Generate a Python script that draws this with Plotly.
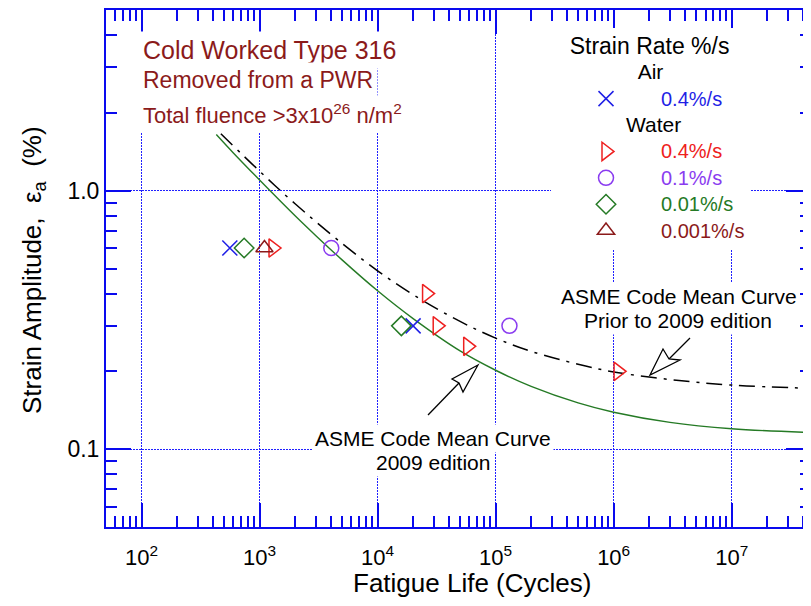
import math
import plotly.graph_objects as go

# ---- values ----
# fatigue life (cycles) and strain amplitude (%) per test group
air04_n = [560, 20000]
air04_e = [0.6, 0.3]

water04_n = [1300, 26000, 32000, 58000, 1.09e6]
water04_e = [0.6, 0.4, 0.3, 0.25, 0.2]

water01_n = [4050, 131000]
water01_e = [0.6, 0.3]

water001_n = [740, 15900]
water001_e = [0.6, 0.3]

water0001_n = [1100]
water0001_e = [0.6]

# ASME Code mean curve, 2009 edition (solid green)
asme09_n = [430, 600, 1e3, 2e3, 3e3, 5e3, 1e4, 2e4, 5e4, 1e5, 2e5, 5e5, 1e6, 3e6, 1e7, 4.7e7]
asme09_e = [1.65, 1.40, 1.10, 0.80, 0.67, 0.54, 0.41, 0.32, 0.24, 0.202, 0.175, 0.151, 0.139, 0.127, 0.120, 0.116]

# ASME Code mean curve prior to 2009 edition (dash-dot)
asmeold_n = [470, 1e3, 2e3, 5e3, 1e4, 2e4, 5e4, 1e5, 2e5, 5e5, 1e6, 3e6, 1e7, 4.7e7]
asmeold_e = [1.66, 1.19, 0.89, 0.625, 0.49, 0.396, 0.312, 0.269, 0.239, 0.213, 0.199, 0.186, 0.177, 0.172]

x_ticks = [1e2, 1e3, 1e4, 1e5, 1e6, 1e7]
y_ticks = [0.1, 1.0]
y_ticktext = ["0.1", "1.0"]

FONT = "Liberation Sans, Arial, sans-serif"
AX = "#0a0aee"
BLUE = "#1f1fe6"
RED = "#ee2020"
PURPLE = "#8a3cf0"
GREEN = "#257a25"
BROWN = "#8b1a1a"

# page has an 8px body margin, so the figure is shrunk by it
OFF = 8
W, H = 811 - OFF, 606 - OFF
# plot area in page pixels
L, R, T, B = 106, 811, 10, 527


def px(x):
    return (x - L) / (R - L)


def py(y):
    return (B - y) / (B - T)


def arrow_path(points):
    pts = [f"{px(a):.5f},{py(b):.5f}" for a, b in points]
    return "M" + " L".join(pts) + " Z"


def pad(n):
    return "&nbsp;" * n


fig = go.Figure()

# curves
fig.add_trace(go.Scatter(
    x=asme09_n, y=asme09_e, mode='lines', line_shape='spline',
    line=dict(color=GREEN, width=1.4), showlegend=False, hoverinfo='skip'
))
fig.add_trace(go.Scatter(
    x=asmeold_n, y=asmeold_e, mode='lines', line_shape='spline',
    line=dict(color='black', width=1.5, dash='16px,7px,3px,7px'),
    showlegend=False, hoverinfo='skip'
))

# data points
groups = [
    (air04_n, air04_e, 'x-thin-open', BLUE, 15, '0.4%/s', 'air', pad(14) + 'Air'),
    (water04_n, water04_e, 'triangle-right-open', RED, 16, '0.4%/s', 'water', pad(12) + 'Water'),
    (water01_n, water01_e, 'circle-open', PURPLE, 15, '0.1%/s', 'water', pad(12) + 'Water'),
    (water001_n, water001_e, 'diamond-open', GREEN, 15, '0.01%/s', 'water', pad(12) + 'Water'),
    (water0001_n, water0001_e, 'triangle-up-open', BROWN, 15, '0.001%/s', 'water', pad(12) + 'Water'),
]
for n, e, sym, col, size, label, grp, gtitle in groups:
    fig.add_trace(go.Scatter(
        x=n, y=e, mode='markers',
        marker=dict(symbol=sym, size=size, color=col, line=dict(color=col, width=1.5)),
        name=f"<span style='color:{col};font-size:20px'>{label}</span>",
        legendgroup=grp,
        legendgrouptitle=dict(text=f"<span style='font-size:21px'>{gtitle}</span>",
                              font=dict(size=18, color='black')),
    ))

axis_common = dict(
    type='log', showline=True, linecolor=AX, linewidth=2, mirror='ticks',
    ticks='inside', tickwidth=2, tickcolor=AX, automargin=False,
    showgrid=True, gridcolor='#2020ff', gridwidth=1, griddash='2px,1px',
    zeroline=False,
    minor=dict(ticks='inside', ticklen=11, tickwidth=2, tickcolor=AX, dtick='D1', showgrid=False),
)
fig.update_xaxes(
    range=[math.log10(50), 7.672], tickvals=x_ticks,
    ticktext=[f"10<sup>{int(round(math.log10(v)))}</sup>" for v in x_ticks],
    ticklen=24, ticklabelstandoff=10, tickfont=dict(size=22, color='black'), **axis_common
)
fig.update_yaxes(
    range=[math.log10(0.05), math.log10(5)], tickvals=y_ticks, ticktext=y_ticktext,
    ticklen=25, tickfont=dict(size=23, color='black'), **axis_common
)

annotations = [
    # axis titles
    dict(x=px(472), y=py(583), text="Fatigue Life (Cycles)", font=dict(size=26)),
    dict(x=px(33), y=py(270), text="Strain Amplitude," + pad(2) + "ε<sub>a</sub>" + pad(2) + "(%)",
         textangle=-90, font=dict(size=26)),
    # material block
    dict(x=px(138), y=py(50), xanchor='left', text="Cold Worked Type 316",
         font=dict(size=25, color=BROWN), bgcolor='white', borderpad=4),
    dict(x=px(138), y=py(80), xanchor='left', text="Removed from a PWR",
         font=dict(size=23, color=BROWN), bgcolor='white', borderpad=4),
    dict(x=px(138), y=py(114), xanchor='left', text="Total fluence >3x10<sup>26</sup> n/m<sup>2</sup>",
         font=dict(size=22, color=BROWN), bgcolor='white', borderpad=4),
    # curve labels
    dict(x=px(679), y=py(296), text="ASME Code Mean Curve", font=dict(size=21), bgcolor='white', borderpad=2),
    dict(x=px(678), y=py(320), text="Prior to 2009 edition", font=dict(size=21), bgcolor='white', borderpad=2),
    dict(x=px(433), y=py(438), text="ASME Code Mean Curve", font=dict(size=21), bgcolor='white', borderpad=2),
    dict(x=px(433), y=py(462), text="2009 edition", font=dict(size=21), bgcolor='white', borderpad=2),
]
for a in annotations:
    a.setdefault('xref', 'paper')
    a.setdefault('yref', 'paper')
    a.setdefault('xanchor', 'center')
    a.setdefault('yanchor', 'middle')
    a.setdefault('showarrow', False)
    a['font'].setdefault('family', FONT)
    a['font'].setdefault('color', 'black')

# hollow arrows pointing at the curves
arrows = [
    ([(428, 415), (459, 383)], [(478, 365), (452, 379), (459, 383), (463, 392)]),
    ([(690, 338), (669, 359)], [(650, 375), (663, 349), (669, 359), (680, 360)]),
]
shapes = []
for tail, head in arrows:
    shapes.append(dict(type='line', xref='paper', yref='paper',
                       x0=px(tail[0][0]), y0=py(tail[0][1]), x1=px(tail[1][0]), y1=py(tail[1][1]),
                       line=dict(color='black', width=1.3)))
    shapes.append(dict(type='path', xref='paper', yref='paper', path=arrow_path(head),
                       fillcolor='white', line=dict(color='black', width=1.3)))

fig.update_layout(
    width=W, height=H,
    margin=dict(l=L - OFF, r=811 - R, t=T - OFF, b=606 - B, pad=0),
    plot_bgcolor='white', paper_bgcolor='white',
    font=dict(family=FONT, color='black'),
    annotations=annotations, shapes=shapes,
    legend=dict(
        x=px(551), y=py(28), xanchor='left', yanchor='top',
        bgcolor='white', borderwidth=0, tracegroupgap=0,
        font=dict(family=FONT, size=18),
        title=dict(text=pad(3) + "<span style='font-size:23px'>Strain Rate %/s</span>",
                   font=dict(size=20, color='black')),
        traceorder='grouped', itemwidth=100,
    ),
)

fig.write_html("out.html")
